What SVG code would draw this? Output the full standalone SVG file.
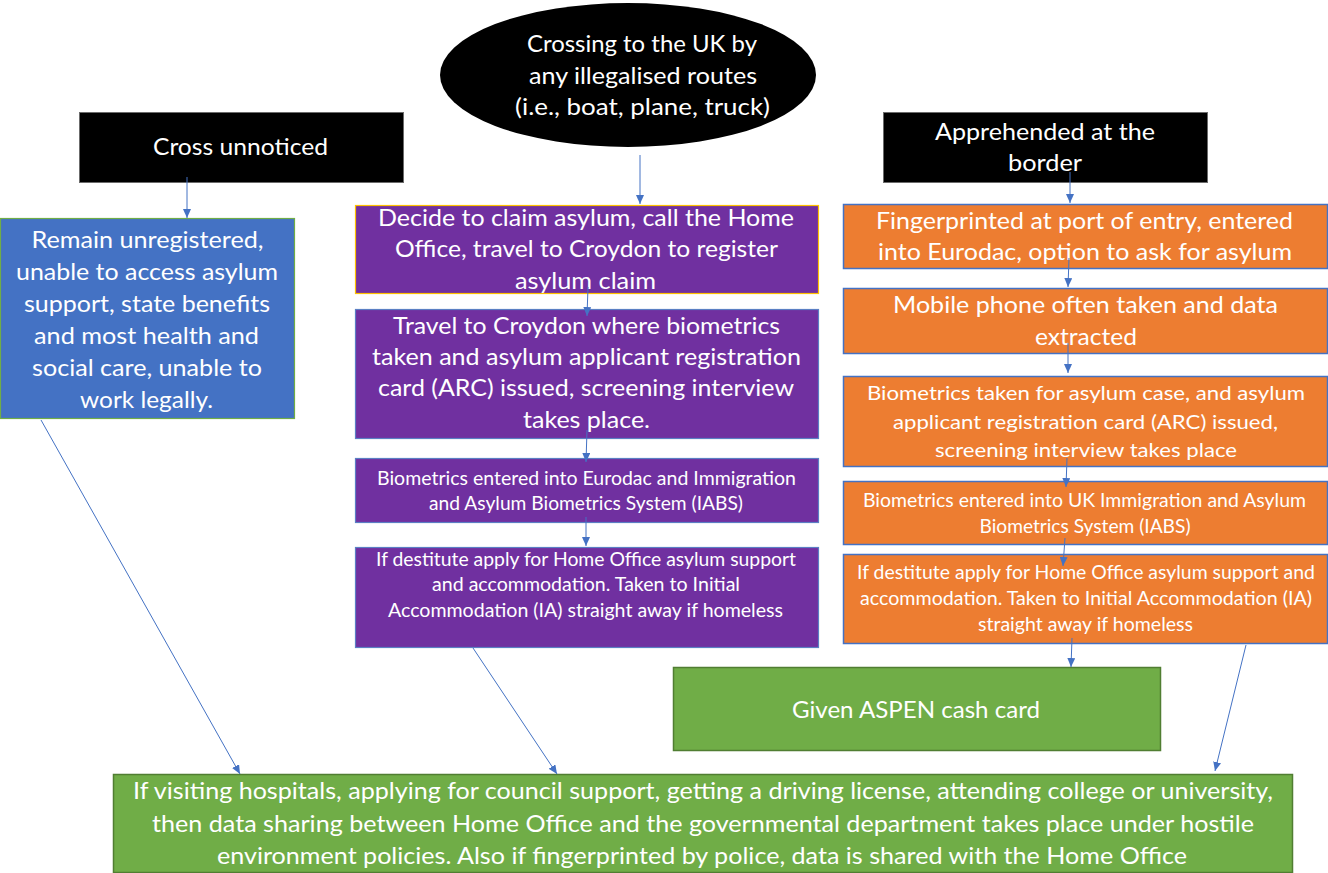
<svg xmlns="http://www.w3.org/2000/svg" width="1328" height="873" viewBox="0 0 1328 873">
<defs>
<marker id="arr" markerUnits="userSpaceOnUse" markerWidth="9" markerHeight="8" refX="9" refY="4" orient="auto">
<path d="M0,0 L9,4 L0,8 z" fill="#4472C4"/>
</marker>
<style>
text{font-family:Lato,"Open Sans","Liberation Sans",sans-serif;fill:#fff;text-anchor:middle}
.t23{font-size:24px}
.t20{font-size:20px}
.t18{font-size:18.5px}
.blk{fill:#000;stroke:#6b6b6b;stroke-width:1}
.pur{fill:#7030A0;stroke:#5b7fc4;stroke-width:1.2}
.org{fill:#ED7D31;stroke:#4472C4;stroke-width:1.5}
.grn{fill:#70AD47;stroke:#507E32;stroke-width:1.5}
.blu{fill:#4472C4;stroke:#70AD47;stroke-width:1.2}
.con line{stroke:#4472C4;stroke-width:1;marker-end:url(#arr)}
</style>
</defs>
<rect width="1328" height="873" fill="#fff"/>

<g id="crossing">
<ellipse cx="628" cy="75" rx="188" ry="72" fill="#000"/>
<text class="t23" x="642" y="52" textLength="230" lengthAdjust="spacingAndGlyphs">Crossing to the UK by</text>
<text class="t23" x="643" y="83.5" textLength="228" lengthAdjust="spacingAndGlyphs">any illegalised routes</text>
<text class="t23" x="642.5" y="115" textLength="255" lengthAdjust="spacingAndGlyphs">(i.e., boat, plane, truck)</text>
</g>

<g id="cross-unnoticed">
<rect class="blk" x="79.5" y="112.5" width="324" height="70"/>
<text class="t23" x="240.5" y="155" textLength="175" lengthAdjust="spacingAndGlyphs">Cross unnoticed</text>
</g>

<g id="apprehended">
<rect class="blk" x="883.5" y="112.5" width="324" height="70"/>
<text class="t23" x="1045" y="140" textLength="220" lengthAdjust="spacingAndGlyphs">Apprehended at the</text>
<text class="t23" x="1045" y="171" textLength="74" lengthAdjust="spacingAndGlyphs">border</text>
</g>

<g id="unregistered">
<rect class="blu" x="0.5" y="218.5" width="294" height="200"/>
<text class="t23" x="147.5" y="247.5" textLength="232" lengthAdjust="spacingAndGlyphs">Remain unregistered,</text>
<text class="t23" x="147" y="279.5" textLength="262" lengthAdjust="spacingAndGlyphs">unable to access asylum</text>
<text class="t23" x="147" y="311.5" textLength="246" lengthAdjust="spacingAndGlyphs">support, state benefits</text>
<text class="t23" x="146.5" y="344" textLength="225" lengthAdjust="spacingAndGlyphs">and most health and</text>
<text class="t23" x="147" y="376" textLength="230" lengthAdjust="spacingAndGlyphs">social care, unable to</text>
<text class="t23" x="146.5" y="408" textLength="133" lengthAdjust="spacingAndGlyphs">work legally.</text>
</g>

<g id="decide">
<rect x="355.5" y="205.5" width="463" height="88" fill="#7030A0" stroke="#FFC000" stroke-width="1.2"/>
<text class="t23" x="586" y="225.5" textLength="416" lengthAdjust="spacingAndGlyphs">Decide to claim asylum, call the Home</text>
<text class="t23" x="586.5" y="256.5" textLength="383" lengthAdjust="spacingAndGlyphs">Office, travel to Croydon to register</text>
<text class="t23" x="585.5" y="288.5" textLength="141" lengthAdjust="spacingAndGlyphs">asylum claim</text>
</g>

<g id="travel">
<rect class="pur" x="355.5" y="309.5" width="463" height="129"/>
<text class="t23" x="586.5" y="333.5" textLength="387" lengthAdjust="spacingAndGlyphs">Travel to Croydon where biometrics</text>
<text class="t23" x="586.5" y="365" textLength="429" lengthAdjust="spacingAndGlyphs">taken and asylum applicant registration</text>
<text class="t23" x="586" y="396" textLength="416" lengthAdjust="spacingAndGlyphs">card (ARC) issued, screening interview</text>
<text class="t23" x="586.5" y="427.5" textLength="127" lengthAdjust="spacingAndGlyphs">takes place.</text>
</g>

<g id="biometrics-left">
<rect class="pur" x="355.5" y="458.5" width="463" height="64"/>
<text class="t18" x="586.5" y="484.5" textLength="419" lengthAdjust="spacingAndGlyphs">Biometrics entered into Eurodac and Immigration</text>
<text class="t18" x="586" y="510" textLength="314" lengthAdjust="spacingAndGlyphs">and Asylum Biometrics System (IABS)</text>
</g>

<g id="destitute-left">
<rect class="pur" x="355.5" y="547.5" width="463" height="100"/>
<text class="t18" x="586" y="565.5" textLength="420" lengthAdjust="spacingAndGlyphs">If destitute apply for Home Office asylum support</text>
<text class="t18" x="586" y="591" textLength="308" lengthAdjust="spacingAndGlyphs">and accommodation. Taken to Initial</text>
<text class="t18" x="585.5" y="616.5" textLength="395" lengthAdjust="spacingAndGlyphs">Accommodation (IA) straight away if homeless</text>
</g>

<g id="fingerprinted">
<rect class="org" x="843.5" y="204.5" width="484" height="64"/>
<text class="t23" x="1084.5" y="228.5" textLength="417" lengthAdjust="spacingAndGlyphs">Fingerprinted at port of entry, entered</text>
<text class="t23" x="1085" y="259.5" textLength="414" lengthAdjust="spacingAndGlyphs">into Eurodac, option to ask for asylum</text>
</g>

<g id="mobile">
<rect class="org" x="843.5" y="288.5" width="484" height="65"/>
<text class="t23" x="1085.5" y="313" textLength="385" lengthAdjust="spacingAndGlyphs">Mobile phone often taken and data</text>
<text class="t23" x="1086" y="345" textLength="102" lengthAdjust="spacingAndGlyphs">extracted</text>
</g>

<g id="biometrics-taken">
<rect class="org" x="843.5" y="376.5" width="484" height="90"/>
<text class="t20" x="1086" y="400" textLength="438" lengthAdjust="spacingAndGlyphs">Biometrics taken for asylum case, and asylum</text>
<text class="t20" x="1085.5" y="428.5" textLength="385" lengthAdjust="spacingAndGlyphs">applicant registration card (ARC) issued,</text>
<text class="t20" x="1086" y="457" textLength="302" lengthAdjust="spacingAndGlyphs">screening interview takes place</text>
</g>

<g id="biometrics-right">
<rect class="org" x="843.5" y="481.5" width="484" height="63"/>
<text class="t18" x="1084.5" y="507" textLength="443" lengthAdjust="spacingAndGlyphs">Biometrics entered into UK Immigration and Asylum</text>
<text class="t18" x="1085" y="533" textLength="211" lengthAdjust="spacingAndGlyphs">Biometrics System (IABS)</text>
</g>

<g id="destitute-right">
<rect class="org" x="843.5" y="554.5" width="484" height="89"/>
<text class="t18" x="1086" y="579" textLength="458" lengthAdjust="spacingAndGlyphs">If destitute apply for Home Office asylum support and</text>
<text class="t18" x="1086" y="605" textLength="452" lengthAdjust="spacingAndGlyphs">accommodation. Taken to Initial Accommodation (IA)</text>
<text class="t18" x="1085.5" y="631" textLength="215" lengthAdjust="spacingAndGlyphs">straight away if homeless</text>
</g>

<g id="aspen">
<rect class="grn" x="673.5" y="667.5" width="487" height="83"/>
<text class="t23" x="916" y="718" textLength="248" lengthAdjust="spacingAndGlyphs">Given ASPEN cash card</text>
</g>

<g id="data-sharing">
<rect class="grn" x="113.5" y="774.5" width="1179" height="98"/>
<text class="t23" x="703" y="799" textLength="1140" lengthAdjust="spacingAndGlyphs">If visiting hospitals, applying for council support, getting a driving license, attending college or university,</text>
<text class="t23" x="703" y="831.5" textLength="1102" lengthAdjust="spacingAndGlyphs">then data sharing between Home Office and the governmental department takes place under hostile</text>
<text class="t23" x="702" y="864" textLength="970" lengthAdjust="spacingAndGlyphs">environment policies. Also if fingerprinted by police, data is shared with the Home Office</text>
</g>

<g id="connectors" class="con">
<line x1="640" y1="155" x2="640" y2="204"/>
<line x1="187" y1="177" x2="187" y2="218"/>
<line x1="1070" y1="172" x2="1070" y2="203"/>
<line x1="588" y1="287" x2="587" y2="316"/>
<line x1="587" y1="430" x2="586" y2="462"/>
<line x1="586" y1="517" x2="586" y2="546"/>
<line x1="1069" y1="258" x2="1068" y2="287"/>
<line x1="1068" y1="343" x2="1068" y2="373"/>
<line x1="1067" y1="458" x2="1066" y2="487"/>
<line x1="1065" y1="538" x2="1063" y2="566"/>
<line x1="1072" y1="638" x2="1071" y2="667"/>
<line x1="1246" y1="645" x2="1215" y2="771"/>
<line x1="41" y1="420" x2="240" y2="774"/>
<line x1="473" y1="648" x2="557" y2="774"/>
</g>
</svg>
